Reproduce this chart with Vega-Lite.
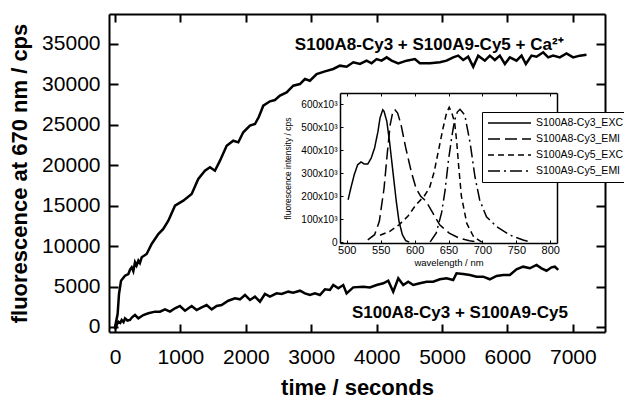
{
  "$schema": "https://vega.github.io/schema/vega-lite/v6.json",
  "width": 496,
  "height": 318,
  "autosize": {"type": "none"},
  "padding": {"left": 109, "top": 14, "right": 19, "bottom": 67},
  "background": "white",
  "config": {"view": {"stroke": null}, "font": "Liberation Sans", "axis": {"grid": false, "tickColor": "black", "domainColor": "black", "labelColor": "black", "titleColor": "black", "labelFlush": false}},
  "datasets": {
    "main": [
      {"t":0,"v":0,"s":"Ca"},{"t":40,"v":1600,"s":"Ca"},{"t":61,"v":4080,"s":"Ca"},{"t":92,"v":5730,"s":"Ca"},{"t":153,"v":6350,"s":"Ca"},{"t":204,"v":6550,"s":"Ca"},{"t":230,"v":7100,"s":"Ca"},{"t":255,"v":7380,"s":"Ca"},{"t":280,"v":6900,"s":"Ca"},{"t":306,"v":8000,"s":"Ca"},{"t":330,"v":7600,"s":"Ca"},{"t":357,"v":8200,"s":"Ca"},{"t":380,"v":7900,"s":"Ca"},{"t":408,"v":8620,"s":"Ca"},{"t":484,"v":9030,"s":"Ca"},{"t":560,"v":10270,"s":"Ca"},{"t":662,"v":11500,"s":"Ca"},{"t":738,"v":12120,"s":"Ca"},{"t":815,"v":13150,"s":"Ca"},{"t":917,"v":15000,"s":"Ca"},{"t":1044,"v":15620,"s":"Ca"},{"t":1172,"v":16450,"s":"Ca"},{"t":1273,"v":18300,"s":"Ca"},{"t":1375,"v":19330,"s":"Ca"},{"t":1452,"v":19750,"s":"Ca"},{"t":1528,"v":19330,"s":"Ca"},{"t":1605,"v":20570,"s":"Ca"},{"t":1707,"v":22420,"s":"Ca"},{"t":1808,"v":23040,"s":"Ca"},{"t":1885,"v":22840,"s":"Ca"},{"t":1961,"v":24080,"s":"Ca"},{"t":2063,"v":24900,"s":"Ca"},{"t":2140,"v":25100,"s":"Ca"},{"t":2200,"v":26000,"s":"Ca"},{"t":2267,"v":27370,"s":"Ca"},{"t":2369,"v":27910,"s":"Ca"},{"t":2445,"v":28070,"s":"Ca"},{"t":2522,"v":28610,"s":"Ca"},{"t":2624,"v":29020,"s":"Ca"},{"t":2725,"v":29840,"s":"Ca"},{"t":2827,"v":30050,"s":"Ca"},{"t":2904,"v":30670,"s":"Ca"},{"t":2980,"v":30460,"s":"Ca"},{"t":3083,"v":31290,"s":"Ca"},{"t":3210,"v":31620,"s":"Ca"},{"t":3337,"v":31910,"s":"Ca"},{"t":3439,"v":32320,"s":"Ca"},{"t":3541,"v":32190,"s":"Ca"},{"t":3643,"v":32740,"s":"Ca"},{"t":3745,"v":32530,"s":"Ca"},{"t":3847,"v":32940,"s":"Ca"},{"t":3923,"v":32610,"s":"Ca"},{"t":4000,"v":33140,"s":"Ca"},{"t":4076,"v":32940,"s":"Ca"},{"t":4153,"v":33350,"s":"Ca"},{"t":4229,"v":32940,"s":"Ca"},{"t":4331,"v":32610,"s":"Ca"},{"t":4458,"v":32940,"s":"Ca"},{"t":4585,"v":33140,"s":"Ca"},{"t":4661,"v":32610,"s":"Ca"},{"t":4814,"v":32610,"s":"Ca"},{"t":4967,"v":32740,"s":"Ca"},{"t":5069,"v":32940,"s":"Ca"},{"t":5171,"v":33350,"s":"Ca"},{"t":5247,"v":33560,"s":"Ca"},{"t":5324,"v":33020,"s":"Ca"},{"t":5400,"v":33430,"s":"Ca"},{"t":5477,"v":32190,"s":"Ca"},{"t":5553,"v":33560,"s":"Ca"},{"t":5655,"v":32940,"s":"Ca"},{"t":5731,"v":33560,"s":"Ca"},{"t":5808,"v":33020,"s":"Ca"},{"t":5884,"v":33560,"s":"Ca"},{"t":5961,"v":32530,"s":"Ca"},{"t":6037,"v":33350,"s":"Ca"},{"t":6139,"v":32940,"s":"Ca"},{"t":6216,"v":33560,"s":"Ca"},{"t":6282,"v":32530,"s":"Ca"},{"t":6368,"v":33560,"s":"Ca"},{"t":6445,"v":33430,"s":"Ca"},{"t":6547,"v":33970,"s":"Ca"},{"t":6623,"v":33350,"s":"Ca"},{"t":6699,"v":33560,"s":"Ca"},{"t":6801,"v":33350,"s":"Ca"},{"t":6903,"v":33840,"s":"Ca"},{"t":7005,"v":33350,"s":"Ca"},{"t":7107,"v":33560,"s":"Ca"},{"t":7209,"v":33680,"s":"Ca"},
      {"t":0,"v":-300,"s":"noCa"},{"t":30,"v":300,"s":"noCa"},{"t":51,"v":660,"s":"noCa"},{"t":80,"v":500,"s":"noCa"},{"t":102,"v":870,"s":"noCa"},{"t":130,"v":600,"s":"noCa"},{"t":153,"v":1070,"s":"noCa"},{"t":190,"v":800,"s":"noCa"},{"t":229,"v":870,"s":"noCa"},{"t":260,"v":1200,"s":"noCa"},{"t":306,"v":1480,"s":"noCa"},{"t":357,"v":1070,"s":"noCa"},{"t":433,"v":1480,"s":"noCa"},{"t":509,"v":1690,"s":"noCa"},{"t":611,"v":1900,"s":"noCa"},{"t":688,"v":1900,"s":"noCa"},{"t":764,"v":2180,"s":"noCa"},{"t":841,"v":1900,"s":"noCa"},{"t":917,"v":2310,"s":"noCa"},{"t":993,"v":2600,"s":"noCa"},{"t":1070,"v":2020,"s":"noCa"},{"t":1172,"v":2600,"s":"noCa"},{"t":1248,"v":2100,"s":"noCa"},{"t":1325,"v":2430,"s":"noCa"},{"t":1401,"v":2720,"s":"noCa"},{"t":1478,"v":2180,"s":"noCa"},{"t":1554,"v":2600,"s":"noCa"},{"t":1630,"v":2720,"s":"noCa"},{"t":1732,"v":3250,"s":"noCa"},{"t":1834,"v":3540,"s":"noCa"},{"t":1910,"v":3420,"s":"noCa"},{"t":1987,"v":3960,"s":"noCa"},{"t":2063,"v":3340,"s":"noCa"},{"t":2140,"v":3750,"s":"noCa"},{"t":2216,"v":3130,"s":"noCa"},{"t":2292,"v":4080,"s":"noCa"},{"t":2369,"v":3750,"s":"noCa"},{"t":2471,"v":4160,"s":"noCa"},{"t":2548,"v":4080,"s":"noCa"},{"t":2649,"v":4370,"s":"noCa"},{"t":2725,"v":4250,"s":"noCa"},{"t":2827,"v":4490,"s":"noCa"},{"t":2904,"v":4160,"s":"noCa"},{"t":2980,"v":3960,"s":"noCa"},{"t":3057,"v":4160,"s":"noCa"},{"t":3133,"v":3960,"s":"noCa"},{"t":3210,"v":4660,"s":"noCa"},{"t":3286,"v":4580,"s":"noCa"},{"t":3337,"v":5190,"s":"noCa"},{"t":3414,"v":4780,"s":"noCa"},{"t":3490,"v":5190,"s":"noCa"},{"t":3541,"v":4160,"s":"noCa"},{"t":3643,"v":4900,"s":"noCa"},{"t":3795,"v":4990,"s":"noCa"},{"t":3897,"v":4900,"s":"noCa"},{"t":4000,"v":5190,"s":"noCa"},{"t":4102,"v":5400,"s":"noCa"},{"t":4178,"v":5730,"s":"noCa"},{"t":4254,"v":4370,"s":"noCa"},{"t":4331,"v":6020,"s":"noCa"},{"t":4407,"v":5190,"s":"noCa"},{"t":4483,"v":5600,"s":"noCa"},{"t":4560,"v":5190,"s":"noCa"},{"t":4661,"v":5400,"s":"noCa"},{"t":4764,"v":5600,"s":"noCa"},{"t":4865,"v":5600,"s":"noCa"},{"t":4967,"v":5900,"s":"noCa"},{"t":5069,"v":6020,"s":"noCa"},{"t":5171,"v":5810,"s":"noCa"},{"t":5222,"v":6640,"s":"noCa"},{"t":5324,"v":6550,"s":"noCa"},{"t":5426,"v":6430,"s":"noCa"},{"t":5528,"v":6220,"s":"noCa"},{"t":5629,"v":6220,"s":"noCa"},{"t":5731,"v":5900,"s":"noCa"},{"t":5834,"v":6310,"s":"noCa"},{"t":5935,"v":6430,"s":"noCa"},{"t":6037,"v":6430,"s":"noCa"},{"t":6139,"v":7130,"s":"noCa"},{"t":6241,"v":7460,"s":"noCa"},{"t":6343,"v":7260,"s":"noCa"},{"t":6445,"v":7670,"s":"noCa"},{"t":6521,"v":7260,"s":"noCa"},{"t":6598,"v":6960,"s":"noCa"},{"t":6674,"v":7380,"s":"noCa"},{"t":6725,"v":7460,"s":"noCa"},{"t":6776,"v":7050,"s":"noCa"}
    ],
    "labels": [
      {"t":2750,"v":34900,"label":"S100A8-Cy3 +  S100A9-Cy5 + Ca²⁺"},
      {"t":3622,"v":1731,"label":"S100A8-Cy3 + S100A9-Cy5"}
    ],
    "spectra": [
      {"wl":502,"i":184000,"s":"S100A8-Cy3_EXC"},{"wl":506,"i":235000,"s":"S100A8-Cy3_EXC"},{"wl":511,"i":293000,"s":"S100A8-Cy3_EXC"},{"wl":516,"i":336000,"s":"S100A8-Cy3_EXC"},{"wl":521,"i":348000,"s":"S100A8-Cy3_EXC"},{"wl":526,"i":339000,"s":"S100A8-Cy3_EXC"},{"wl":531,"i":339000,"s":"S100A8-Cy3_EXC"},{"wl":536,"i":365000,"s":"S100A8-Cy3_EXC"},{"wl":541,"i":409000,"s":"S100A8-Cy3_EXC"},{"wl":546,"i":481000,"s":"S100A8-Cy3_EXC"},{"wl":549,"i":539000,"s":"S100A8-Cy3_EXC"},{"wl":553,"i":575000,"s":"S100A8-Cy3_EXC"},{"wl":555,"i":568000,"s":"S100A8-Cy3_EXC"},{"wl":559,"i":525000,"s":"S100A8-Cy3_EXC"},{"wl":563,"i":438000,"s":"S100A8-Cy3_EXC"},{"wl":568,"i":307000,"s":"S100A8-Cy3_EXC"},{"wl":573,"i":177000,"s":"S100A8-Cy3_EXC"},{"wl":577,"i":90000,"s":"S100A8-Cy3_EXC"},{"wl":582,"i":32000,"s":"S100A8-Cy3_EXC"},{"wl":587,"i":6000,"s":"S100A8-Cy3_EXC"},{"wl":592,"i":0,"s":"S100A8-Cy3_EXC"},
      {"wl":531,"i":10000,"s":"S100A8-Cy3_EMI"},{"wl":541,"i":32000,"s":"S100A8-Cy3_EMI"},{"wl":548,"i":90000,"s":"S100A8-Cy3_EMI"},{"wl":555,"i":235000,"s":"S100A8-Cy3_EMI"},{"wl":560,"i":394000,"s":"S100A8-Cy3_EMI"},{"wl":564,"i":510000,"s":"S100A8-Cy3_EMI"},{"wl":568,"i":568000,"s":"S100A8-Cy3_EMI"},{"wl":571,"i":575000,"s":"S100A8-Cy3_EMI"},{"wl":575,"i":561000,"s":"S100A8-Cy3_EMI"},{"wl":580,"i":510000,"s":"S100A8-Cy3_EMI"},{"wl":587,"i":409000,"s":"S100A8-Cy3_EMI"},{"wl":595,"i":307000,"s":"S100A8-Cy3_EMI"},{"wl":602,"i":235000,"s":"S100A8-Cy3_EMI"},{"wl":609,"i":199000,"s":"S100A8-Cy3_EMI"},{"wl":617,"i":177000,"s":"S100A8-Cy3_EMI"},{"wl":627,"i":126000,"s":"S100A8-Cy3_EMI"},{"wl":637,"i":75000,"s":"S100A8-Cy3_EMI"},{"wl":651,"i":39000,"s":"S100A8-Cy3_EMI"},{"wl":666,"i":17000,"s":"S100A8-Cy3_EMI"},{"wl":681,"i":6000,"s":"S100A8-Cy3_EMI"},{"wl":695,"i":0,"s":"S100A8-Cy3_EMI"},
      {"wl":549,"i":30000,"s":"S100A9-Cy5_EXC"},{"wl":563,"i":46000,"s":"S100A9-Cy5_EXC"},{"wl":577,"i":75000,"s":"S100A9-Cy5_EXC"},{"wl":590,"i":112000,"s":"S100A9-Cy5_EXC"},{"wl":602,"i":162000,"s":"S100A9-Cy5_EXC"},{"wl":614,"i":199000,"s":"S100A9-Cy5_EXC"},{"wl":622,"i":235000,"s":"S100A9-Cy5_EXC"},{"wl":629,"i":307000,"s":"S100A9-Cy5_EXC"},{"wl":636,"i":409000,"s":"S100A9-Cy5_EXC"},{"wl":642,"i":496000,"s":"S100A9-Cy5_EXC"},{"wl":647,"i":560000,"s":"S100A9-Cy5_EXC"},{"wl":651,"i":586000,"s":"S100A9-Cy5_EXC"},{"wl":655,"i":560000,"s":"S100A9-Cy5_EXC"},{"wl":659,"i":520000,"s":"S100A9-Cy5_EXC"},{"wl":662,"i":440000,"s":"S100A9-Cy5_EXC"},{"wl":665,"i":330000,"s":"S100A9-Cy5_EXC"},{"wl":669,"i":200000,"s":"S100A9-Cy5_EXC"},{"wl":677,"i":81000,"s":"S100A9-Cy5_EXC"},{"wl":687,"i":23000,"s":"S100A9-Cy5_EXC"},{"wl":699,"i":0,"s":"S100A9-Cy5_EXC"},
      {"wl":623,"i":1000,"s":"S100A9-Cy5_EMI"},{"wl":632,"i":40000,"s":"S100A9-Cy5_EMI"},{"wl":640,"i":130000,"s":"S100A9-Cy5_EMI"},{"wl":645,"i":226000,"s":"S100A9-Cy5_EMI"},{"wl":650,"i":357000,"s":"S100A9-Cy5_EMI"},{"wl":655,"i":460000,"s":"S100A9-Cy5_EMI"},{"wl":659,"i":530000,"s":"S100A9-Cy5_EMI"},{"wl":663,"i":565000,"s":"S100A9-Cy5_EMI"},{"wl":667,"i":577000,"s":"S100A9-Cy5_EMI"},{"wl":674,"i":552000,"s":"S100A9-Cy5_EMI"},{"wl":682,"i":429000,"s":"S100A9-Cy5_EMI"},{"wl":689,"i":284000,"s":"S100A9-Cy5_EMI"},{"wl":696,"i":183000,"s":"S100A9-Cy5_EMI"},{"wl":706,"i":110000,"s":"S100A9-Cy5_EMI"},{"wl":721,"i":67000,"s":"S100A9-Cy5_EMI"},{"wl":741,"i":30000,"s":"S100A9-Cy5_EMI"},{"wl":760,"i":9000,"s":"S100A9-Cy5_EMI"},{"wl":772,"i":0,"s":"S100A9-Cy5_EMI"}
    ]
  },
  "layer": [
    {
      "layer": [
        {
          "data": {"name": "main"},
          "mark": {"type": "line", "color": "black", "strokeWidth": 2.5},
          "encoding": {
            "x": {"field": "t", "type": "quantitative", "scale": {"domain": [-92, 7492], "nice": false, "zero": false},
              "axis": {"orient": "bottom", "values": [0,1000,2000,3000,4000,5000,6000,7000], "format": "d", "title": "time / seconds", "titleFontSize": 22, "titleFontWeight": "bold", "titlePadding": 10, "labelFontSize": 21, "labelPadding": 14, "ticks": false, "tickSize": 0, "domainWidth": 2}},
            "y": {"field": "v", "type": "quantitative", "scale": {"domain": [-620, 38710], "nice": false, "zero": false},
              "axis": {"orient": "left", "values": [0,5000,10000,15000,20000,25000,30000,35000], "format": "d", "title": "fluorescence at 670 nm / cps", "titleFontSize": 22, "titleFontWeight": "bold", "titlePadding": 10, "labelFontSize": 21, "labelPadding": 9, "ticks": false, "tickSize": 0, "domainWidth": 2}},
            "detail": {"field": "s"}
          }
        },
        {
          "data": {"name": "main"},
          "mark": {"type": "line", "opacity": 0},
          "encoding": {
            "x": {"field": "t", "type": "quantitative", "axis": {"orient": "top", "labels": false, "title": null, "ticks": false, "domainWidth": 2}},
            "y": {"field": "v", "type": "quantitative", "axis": {"orient": "right", "labels": false, "title": null, "ticks": false, "domainWidth": 2}},
            "detail": {"field": "s"}
          }
        },
        {
          "data": {"name": "main"},
          "mark": {"type": "line", "opacity": 0},
          "encoding": {
            "x": {"field": "t", "type": "quantitative", "axis": {"orient": "bottom", "offset": -8, "values": [0,1000,2000,3000,4000,5000,6000,7000], "labels": false, "title": null, "domain": false, "ticks": true, "tickSize": 8, "tickWidth": 2, "tickColor": "black"}},
            "y": {"field": "v", "type": "quantitative", "axis": {"orient": "right", "offset": -9, "values": [0,5000,10000,15000,20000,25000,30000,35000], "labels": false, "title": null, "domain": false, "ticks": true, "tickSize": 9, "tickWidth": 2, "tickColor": "black"}},
            "detail": {"field": "s"}
          }
        },
        {
          "data": {"name": "labels"},
          "mark": {"type": "text", "align": "left", "baseline": "middle", "fontSize": 17, "fontWeight": "bold", "color": "black"},
          "encoding": {
            "x": {"field": "t", "type": "quantitative", "axis": {"orient": "bottom", "offset": -318, "values": [0,1000,2000,3000,4000,5000,6000,7000], "labels": false, "title": null, "domain": false, "ticks": true, "tickSize": 8, "tickWidth": 2, "tickColor": "black"}},
            "y": {"field": "v", "type": "quantitative", "axis": {"orient": "left", "offset": -9, "values": [0,5000,10000,15000,20000,25000,30000,35000], "labels": false, "title": null, "domain": false, "ticks": true, "tickSize": 9, "tickWidth": 2, "tickColor": "black"}},
            "text": {"field": "label"}
          }
        }
      ],
      "resolve": {"axis": {"x": "independent", "y": "independent"}}
    },
    {
      "layer": [
        {
          "data": {"name": "spectra"},
          "mark": {"type": "line", "color": "black", "strokeWidth": 1.5},
          "encoding": {
            "x": {"field": "wl", "type": "quantitative", "scale": {"domain": [490, 810], "range": [231, 448], "nice": false, "zero": false},
              "axis": {"orient": "bottom", "offset": -89, "values": [500,550,600,650,700,750,800], "title": "wavelength / nm", "titleFontSize": 9.5, "titleFontWeight": "normal", "titlePadding": 2, "labelFontSize": 11, "labelPadding": 1, "ticks": false, "tickSize": 0, "domainWidth": 1.5}},
            "y": {"field": "i", "type": "quantitative", "scale": {"domain": [-4000, 648000], "range": [229, 79], "nice": false, "zero": false},
              "axis": {"orient": "left", "offset": -231, "values": [0,100000,200000,300000,400000,500000,600000], "labelExpr": "datum.value == 0 ? '0' : (datum.value/1000) + 'x10³'", "title": "fluorescence intensity / cps", "titleFontSize": 8.5, "titleFontWeight": "normal", "titlePadding": 8, "labelFontSize": 10, "labelPadding": 3, "ticks": false, "tickSize": 0, "domainWidth": 1.5}},
            "strokeDash": {"field": "s", "type": "nominal",
              "scale": {"domain": ["S100A8-Cy3_EXC", "S100A8-Cy3_EMI", "S100A9-Cy5_EXC", "S100A9-Cy5_EMI"], "range": [[1, 0], [12, 5], [6, 4], [12, 4, 2, 4]]},
              "legend": {"orient": "none", "legendX": 373, "legendY": 98, "title": null, "fillColor": "white", "strokeColor": "black", "padding": 5, "labelFontSize": 10.5, "labelColor": "black", "symbolType": "M-1,0H7.6", "symbolSize": 100, "symbolStrokeWidth": 1.5, "symbolStrokeColor": "black", "symbolFillColor": "transparent", "labelOffset": 37, "rowPadding": 4, "zindex": 10}}
          }
        },
        {
          "data": {"name": "spectra"},
          "mark": {"type": "line", "opacity": 0},
          "encoding": {
            "x": {"field": "wl", "type": "quantitative", "axis": {"orient": "top", "offset": -79, "labels": false, "title": null, "ticks": false, "domainWidth": 1.5}},
            "y": {"field": "i", "type": "quantitative", "axis": {"orient": "right", "offset": -48, "labels": false, "title": null, "ticks": false, "domainWidth": 1.5}},
            "detail": {"field": "s"}
          }
        },
        {
          "data": {"name": "spectra"},
          "mark": {"type": "line", "opacity": 0},
          "encoding": {
            "x": {"field": "wl", "type": "quantitative", "axis": {"orient": "bottom", "offset": -92, "values": [500,550,600,650,700,750,800], "labels": false, "title": null, "domain": false, "ticks": true, "tickSize": 3, "tickColor": "black"}},
            "y": {"field": "i", "type": "quantitative", "axis": {"orient": "left", "offset": -234, "values": [0,100000,200000,300000,400000,500000,600000], "labels": false, "title": null, "domain": false, "ticks": true, "tickSize": 3, "tickColor": "black"}},
            "detail": {"field": "s"}
          }
        },
        {
          "data": {"name": "spectra"},
          "mark": {"type": "line", "opacity": 0},
          "encoding": {
            "x": {"field": "wl", "type": "quantitative", "axis": {"orient": "bottom", "offset": -239, "values": [500,550,600,650,700,750,800], "labels": false, "title": null, "domain": false, "ticks": true, "tickSize": 3, "tickColor": "black"}},
            "y": {"field": "i", "type": "quantitative", "axis": null},
            "detail": {"field": "s"}
          }
        }
      ],
      "resolve": {"axis": {"x": "independent", "y": "independent"}}
    }
  ],
  "resolve": {"scale": {"x": "independent", "y": "independent"}, "axis": {"x": "independent", "y": "independent"}}
}
